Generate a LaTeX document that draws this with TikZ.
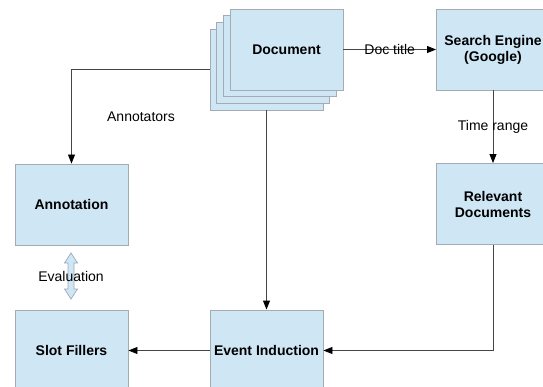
\documentclass[tikz,border=0pt]{standalone}
\usepackage{fontspec}
\setmainfont{Liberation Sans}
\usetikzlibrary{arrows.meta,calc}
\definecolor{boxfill}{HTML}{CFE6F5}
\definecolor{boxline}{HTML}{A3ABB3}
\definecolor{conn}{HTML}{454545}
\definecolor{dblfill}{HTML}{CFE6F5}
\definecolor{dblline}{HTML}{9AAAB8}
\begin{document}
\begin{tikzpicture}[x=1pt,y=-1pt,
  procbox/.style={draw=boxline,fill=boxfill,line width=0.9pt,minimum width=113pt,minimum height=81pt,inner sep=0pt,align=center,font=\fontsize{14}{16}\selectfont\bfseries},
  conline/.style={draw=conn,line width=0.9pt,-{Triangle[length=9pt,width=7pt,color=black]}},
  lbl/.style={font=\fontsize{14}{16}\selectfont,inner sep=0pt}]
\useasboundingbox (0,0) rectangle (543,387);
\fill[white] (0,0) rectangle (543,387);
% document stack
\node[procbox] (doc4) at (266.5,69.5) {};
\node[procbox] (doc3) at (273.2,62.8) {};
\node[procbox] (doc2) at (279.9,56.1) {};
\node[procbox] (doc) at (286.5,49.5) {Document};
\node[procbox] (search) at (493,49.5) {Search Engine\\(Google)};
\node[procbox] (rel) at (493,204) {Relevant\\Documents};
\node[procbox] (annot) at (71.5,204.5) {Annotation};
\node[procbox] (slot) at (71.5,350.5) {Slot Fillers};
\node[procbox] (event) at (266.5,350.5) {Event Induction};
% connectors
\draw[conline] (doc.east) -- (search.west) node[lbl,midway] {Doc title};
\draw[conline] (doc4.west) -| (annot.north);
\node[lbl] (annotators) at (141,117) {Annotators};
\draw[conline] (doc4.south) -- (event.north);
\draw[conline] (search.south) -- (rel.north) node[lbl,midway] {Time range};
\draw[conline] (rel.south) |- (event.east);
\draw[conline] (event.west) -- (slot.east);
% evaluation double arrow
\coordinate (ev) at (71,276);
\draw[draw=dblline,fill=dblfill,line width=0.7pt]
  ($(ev)+(0,-23)$) -- ($(ev)+(6.5,-13)$) -- ($(ev)+(3,-13)$) -- ($(ev)+(3,13)$) -- ($(ev)+(6.5,13)$)
  -- ($(ev)+(0,23)$) -- ($(ev)+(-6.5,13)$) -- ($(ev)+(-3,13)$) -- ($(ev)+(-3,-13)$) -- ($(ev)+(-6.5,-13)$) -- cycle;
\node[lbl] (evlabel) at (ev) {Evaluation};
\end{tikzpicture}
\end{document}
